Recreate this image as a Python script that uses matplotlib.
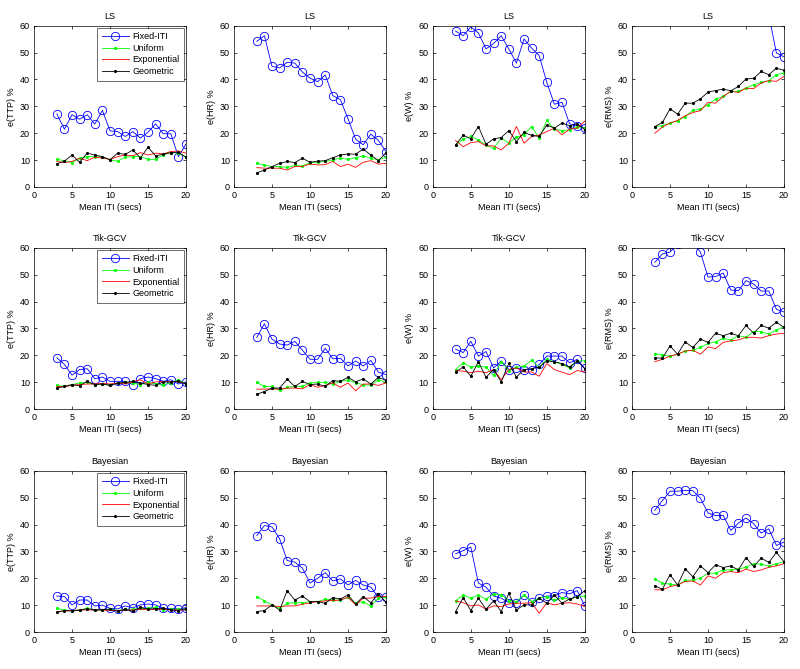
import numpy as np
import matplotlib.pyplot as plt

plt.rcParams['font.family'] = ['Liberation Sans', 'DejaVu Sans']

iti = np.arange(3, 21)
methods = ['LS', 'Tik-GCV', 'Bayesian']
measures = ['e(TTP) %', 'e(HR) %', 'e(W) %', 'e(RMS) %']
series_names = ['Fixed-ITI', 'Uniform', 'Exponential', 'Geometric']

# LS
ls_ttp_fixed = [27.2, 21.5, 26.9, 25.2, 26.9, 23.4, 28.5, 20.9, 20.6, 18.8, 20.6, 18.2, 20.4, 23.5, 19.8, 19.8, 11.3, 16.0]
ls_ttp_unif = [10.3, 9.8, 9.1, 10.7, 11.3, 11.3, 11.1, 10.1, 9.6, 11.1, 11.3, 11.3, 10.3, 10.3, 11.9, 12.8, 12.6, 11.1]
ls_ttp_expo = [9.5, 9.1, 9.5, 10.7, 9.8, 11.1, 10.8, 10.3, 11.3, 11.9, 11.6, 12.8, 11.9, 12.6, 12.3, 13.2, 13.4, 12.6]
ls_ttp_geom = [8.6, 9.6, 11.9, 9.2, 12.6, 11.9, 11.3, 10.1, 12.6, 12.1, 13.8, 10.8, 14.8, 11.6, 12.2, 12.8, 12.9, 11.1]

ls_hr_fixed = [54.2, 56.3, 44.9, 44.3, 46.4, 46.1, 42.8, 40.5, 39.2, 41.7, 34.0, 32.5, 25.4, 17.8, 15.7, 19.7, 17.3, 13.2]
ls_hr_unif = [8.8, 8.2, 7.6, 7.6, 7.3, 8.0, 7.8, 9.1, 9.2, 9.5, 10.1, 10.7, 10.3, 10.9, 11.6, 10.7, 10.1, 11.1]
ls_hr_expo = [7.2, 7.0, 7.0, 7.0, 6.3, 7.6, 7.6, 8.6, 8.2, 8.3, 9.5, 7.6, 8.5, 7.3, 9.2, 9.8, 8.5, 8.8]
ls_hr_geom = [5.3, 6.3, 7.6, 8.8, 9.5, 9.1, 10.7, 9.2, 9.6, 9.8, 10.9, 11.9, 12.3, 12.2, 14.1, 11.9, 9.8, 12.8]

ls_w_fixed = [58.0, 56.3, 59.6, 57.3, 51.4, 53.4, 56.3, 51.4, 46.1, 55.1, 51.7, 48.9, 38.9, 30.8, 31.5, 23.5, 22.8, 22.0]
ls_w_unif = [15.7, 17.8, 18.8, 17.5, 15.7, 14.4, 18.2, 16.3, 18.5, 19.4, 22.5, 18.2, 24.8, 21.5, 21.0, 21.3, 22.5, 21.9]
ls_w_expo = [17.3, 15.0, 16.5, 16.9, 15.3, 15.3, 13.8, 16.3, 22.5, 16.3, 18.8, 19.4, 20.6, 21.9, 19.4, 21.5, 21.9, 24.5]
ls_w_geom = [15.7, 19.2, 18.0, 22.5, 15.9, 17.9, 18.4, 21.0, 16.9, 20.3, 19.2, 18.8, 23.1, 21.9, 23.8, 22.8, 23.5, 21.3]

ls_rms_fixed = [92.0, 90.0, 88.0, 86.0, 84.0, 82.0, 80.0, 78.0, 76.0, 75.0, 73.0, 71.0, 70.0, 68.0, 66.0, 64.0, 49.9, 48.4]
ls_rms_unif = [22.5, 22.8, 23.8, 24.6, 26.2, 28.5, 29.0, 30.6, 32.7, 33.7, 35.6, 35.6, 36.8, 38.1, 38.9, 39.6, 41.8, 42.4]
ls_rms_expo = [20.0, 22.3, 23.8, 24.8, 26.5, 27.7, 28.4, 31.5, 31.2, 33.7, 35.6, 35.2, 36.8, 36.6, 38.7, 39.6, 39.3, 41.2]
ls_rms_geom = [22.5, 24.0, 29.1, 27.1, 31.2, 31.2, 32.8, 35.3, 35.9, 36.4, 35.8, 37.4, 40.2, 40.4, 43.0, 41.8, 44.2, 43.4]

# Tik-GCV
tik_ttp_fixed = [19.1, 16.6, 12.6, 14.7, 15.0, 11.3, 11.9, 10.3, 10.3, 10.3, 9.1, 11.3, 11.9, 11.3, 10.3, 10.9, 9.3, 10.1]
tik_ttp_unif = [8.8, 8.4, 9.1, 9.7, 9.9, 9.1, 9.3, 9.1, 9.7, 9.9, 9.6, 9.1, 9.9, 9.3, 9.1, 9.7, 10.9, 9.3]
tik_ttp_expo = [8.4, 8.3, 8.8, 9.1, 9.3, 9.3, 9.6, 9.3, 9.7, 9.3, 10.1, 10.9, 9.3, 10.1, 10.3, 10.1, 10.3, 9.3]
tik_ttp_geom = [7.8, 8.4, 9.1, 8.7, 10.3, 9.1, 9.3, 8.8, 9.6, 9.9, 10.3, 9.7, 9.1, 8.8, 10.1, 10.1, 10.3, 9.3]

tik_hr_fixed = [26.7, 31.7, 26.0, 24.2, 23.8, 25.2, 21.9, 18.5, 18.5, 22.6, 18.7, 18.9, 16.0, 17.9, 16.0, 18.1, 13.7, 12.8]
tik_hr_unif = [9.9, 8.4, 8.4, 6.9, 8.1, 8.4, 8.4, 9.7, 9.9, 9.9, 9.3, 10.3, 10.9, 9.7, 9.1, 8.8, 10.9, 9.9]
tik_hr_expo = [7.4, 7.4, 7.5, 7.4, 7.8, 7.8, 7.5, 9.1, 8.1, 8.8, 9.7, 8.1, 9.7, 6.8, 9.3, 9.3, 8.8, 9.7]
tik_hr_geom = [5.5, 6.5, 7.8, 7.8, 11.1, 8.4, 10.3, 9.1, 9.3, 8.4, 10.6, 10.3, 11.8, 10.1, 11.2, 9.3, 11.8, 10.6]

tik_w_fixed = [22.3, 21.0, 25.2, 19.7, 21.4, 15.3, 17.9, 14.7, 15.3, 14.7, 14.7, 16.6, 19.7, 19.7, 19.7, 17.2, 18.5, 15.1]
tik_w_unif = [14.7, 17.2, 15.6, 16.0, 15.6, 12.5, 17.6, 14.3, 15.6, 16.0, 18.1, 15.6, 18.5, 17.6, 16.6, 15.3, 17.9, 17.9]
tik_w_expo = [14.3, 14.1, 13.5, 14.1, 13.5, 14.7, 10.9, 14.7, 15.3, 13.8, 13.8, 12.2, 16.9, 14.7, 13.7, 12.8, 14.3, 13.8]
tik_w_geom = [13.7, 15.7, 12.2, 17.6, 11.8, 14.7, 10.1, 17.0, 11.9, 14.7, 15.0, 15.6, 17.9, 17.6, 16.9, 15.7, 17.9, 15.0]

tik_rms_fixed = [54.6, 57.7, 58.4, 61.5, 63.0, 62.0, 58.4, 49.1, 49.3, 50.6, 44.3, 44.0, 47.8, 46.5, 43.9, 43.9, 37.1, 36.1]
tik_rms_unif = [20.6, 20.1, 19.7, 20.4, 21.6, 21.9, 22.9, 24.4, 25.0, 26.3, 25.7, 27.3, 26.7, 28.8, 28.8, 27.9, 29.4, 30.7]
tik_rms_expo = [17.6, 18.5, 19.7, 20.4, 21.6, 21.9, 20.4, 23.1, 22.5, 24.8, 25.4, 25.7, 26.7, 26.7, 26.4, 27.3, 27.9, 28.2]
tik_rms_geom = [19.1, 18.9, 23.5, 20.4, 25.0, 22.9, 26.0, 24.8, 28.2, 27.3, 28.2, 27.3, 31.1, 28.2, 31.1, 30.1, 32.3, 30.4]

# Bayesian
bay_ttp_fixed = [13.4, 13.2, 10.1, 11.9, 11.9, 9.7, 10.0, 8.8, 8.6, 9.7, 9.0, 10.1, 10.4, 10.1, 8.8, 8.8, 8.5, 9.1]
bay_ttp_unif = [8.8, 8.2, 8.0, 8.2, 8.8, 8.2, 8.2, 8.5, 8.0, 8.5, 8.5, 8.8, 8.8, 9.2, 8.2, 8.5, 8.5, 8.5]
bay_ttp_expo = [7.6, 7.8, 8.0, 8.2, 8.2, 8.2, 8.2, 8.0, 8.0, 8.2, 8.2, 8.5, 8.2, 8.5, 8.5, 8.2, 8.2, 8.2]
bay_ttp_geom = [7.3, 8.0, 7.8, 8.1, 8.7, 8.2, 8.3, 8.5, 7.7, 8.5, 7.7, 9.2, 8.5, 8.7, 8.8, 8.2, 8.0, 8.7]

bay_hr_fixed = [35.9, 39.6, 39.1, 34.7, 26.6, 26.0, 23.8, 18.2, 20.0, 22.1, 19.0, 19.8, 17.5, 19.2, 17.5, 16.7, 12.9, 13.2]
bay_hr_unif = [13.2, 11.6, 10.1, 8.8, 10.7, 10.9, 10.9, 11.3, 11.3, 12.2, 11.9, 11.9, 12.9, 10.7, 11.3, 9.7, 12.6, 12.9]
bay_hr_expo = [9.7, 9.7, 9.7, 9.5, 9.7, 9.7, 10.3, 10.9, 11.3, 11.6, 11.7, 11.9, 12.9, 10.1, 12.6, 12.6, 13.2, 13.2]
bay_hr_geom = [7.6, 8.0, 10.1, 8.2, 15.4, 11.9, 13.4, 11.3, 11.3, 10.7, 12.8, 12.3, 13.8, 10.4, 13.2, 10.9, 14.2, 11.1]

bay_w_fixed = [29.1, 30.3, 31.6, 18.2, 16.7, 13.4, 12.6, 10.9, 10.7, 13.8, 11.3, 12.6, 13.4, 13.4, 14.7, 14.2, 15.4, 9.7]
bay_w_unif = [11.6, 13.8, 12.6, 13.8, 12.2, 14.2, 13.8, 11.7, 11.3, 13.8, 11.3, 12.6, 13.2, 11.9, 12.8, 12.2, 13.2, 13.4]
bay_w_expo = [11.6, 10.9, 9.7, 10.1, 8.5, 9.7, 9.5, 10.4, 10.7, 10.7, 10.9, 7.0, 10.9, 10.1, 10.7, 10.9, 10.4, 9.5]
bay_w_geom = [7.6, 12.8, 8.0, 12.6, 8.5, 11.6, 7.6, 14.4, 8.2, 10.1, 10.1, 12.6, 10.7, 13.8, 10.7, 12.3, 13.2, 15.4]

bay_rms_fixed = [45.3, 48.9, 52.4, 52.4, 52.7, 52.6, 49.8, 44.3, 43.3, 43.4, 37.8, 40.5, 42.4, 40.3, 36.8, 38.4, 32.2, 33.5]
bay_rms_unif = [19.7, 18.2, 17.8, 17.5, 19.2, 19.4, 20.0, 21.9, 21.9, 23.1, 23.1, 23.4, 24.1, 25.4, 25.2, 24.6, 25.4, 26.2]
bay_rms_expo = [15.7, 15.7, 16.9, 17.5, 18.8, 19.0, 17.5, 20.9, 20.0, 22.1, 22.5, 22.1, 23.4, 22.5, 23.1, 24.1, 24.6, 25.4]
bay_rms_geom = [17.2, 15.9, 21.3, 17.5, 23.5, 20.6, 24.6, 22.1, 25.0, 24.0, 24.6, 23.1, 27.7, 24.4, 27.5, 25.9, 29.6, 26.2]

grid = [
    [(ls_ttp_fixed, ls_ttp_unif, ls_ttp_expo, ls_ttp_geom),
     (ls_hr_fixed, ls_hr_unif, ls_hr_expo, ls_hr_geom),
     (ls_w_fixed, ls_w_unif, ls_w_expo, ls_w_geom),
     (ls_rms_fixed, ls_rms_unif, ls_rms_expo, ls_rms_geom)],
    [(tik_ttp_fixed, tik_ttp_unif, tik_ttp_expo, tik_ttp_geom),
     (tik_hr_fixed, tik_hr_unif, tik_hr_expo, tik_hr_geom),
     (tik_w_fixed, tik_w_unif, tik_w_expo, tik_w_geom),
     (tik_rms_fixed, tik_rms_unif, tik_rms_expo, tik_rms_geom)],
    [(bay_ttp_fixed, bay_ttp_unif, bay_ttp_expo, bay_ttp_geom),
     (bay_hr_fixed, bay_hr_unif, bay_hr_expo, bay_hr_geom),
     (bay_w_fixed, bay_w_unif, bay_w_expo, bay_w_geom),
     (bay_rms_fixed, bay_rms_unif, bay_rms_expo, bay_rms_geom)],
]

fig = plt.figure(figsize=(8.0, 6.69), dpi=100)
fig.patch.set_facecolor('white')

lefts = [0.0425, 0.2925, 0.541, 0.79]
bottoms = [0.7205, 0.3886, 0.0553]
w, h = 0.19, 0.241
fs = 6.5

for r in range(3):
    for c in range(4):
        ax = fig.add_axes([lefts[c], bottoms[r], w, h])
        fixed, unif, expo, geom = grid[r][c]
        ax.plot(iti, fixed, '-o', color='#0000ff', lw=0.6, ms=6,
                mfc='none', mew=0.6, label=series_names[0])
        ax.plot(iti, unif, '.-', color='#00ff00', lw=0.6, ms=2.5,
                label=series_names[1])
        ax.plot(iti, expo, '-', color='#ff0000', lw=0.6,
                label=series_names[2])
        ax.plot(iti, geom, '.-', color='k', lw=0.6, ms=2.5,
                label=series_names[3])
        ax.set_xlim(0, 20)
        ax.set_ylim(0, 60)
        ax.set_xticks([0, 5, 10, 15, 20])
        ax.set_yticks(np.arange(0, 61, 10))
        ax.tick_params(direction='in', top=True, right=True, length=2.5,
                       width=0.5, labelsize=fs, pad=3)
        for s in ax.spines.values():
            s.set_linewidth(0.5)
        ax.set_title(methods[r], fontsize=fs, pad=5)
        ax.set_xlabel('Mean ITI (secs)', fontsize=fs, labelpad=2)
        ax.set_ylabel(measures[c], fontsize=fs, labelpad=3)
        if c == 0:
            leg = ax.legend(loc='upper right', fontsize=fs, frameon=True,
                            fancybox=False, borderpad=0.5, labelspacing=0.3,
                            handlelength=3.0, handletextpad=0.4,
                            borderaxespad=0.2)
            leg.get_frame().set_edgecolor('k')
            leg.get_frame().set_linewidth(0.5)

fig.savefig('out.png', dpi=100)
